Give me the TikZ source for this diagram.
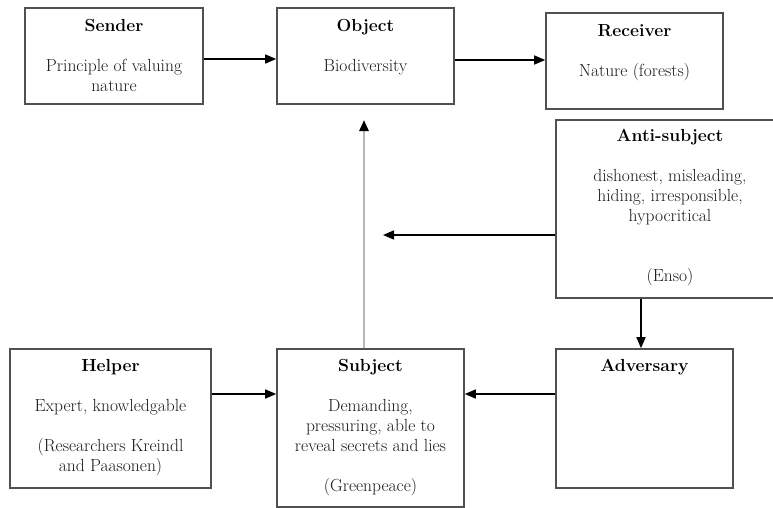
\documentclass[tikz,border=0pt]{standalone}
\usetikzlibrary{arrows.meta}
\definecolor{boxline}{HTML}{505050}
\definecolor{bodytext}{HTML}{1A1A1A}
\tikzset{
  box/.style={draw=boxline, line width=1.6pt, fill=white, inner sep=0pt},
  txt/.style={align=center, inner sep=0pt, anchor=north, text=bodytext,
              font=\rmfamily\fontsize{17.5}{20}\selectfont},
  arr/.style={line width=1.5pt, draw=black, -{Triangle[length=11pt,width=9pt]}},
  grayarr/.style={line width=2.6pt, draw=black!28, -{Triangle[length=11pt,width=9pt,fill=black,color=black]}},
}
\begin{document}
\begin{tikzpicture}[x=1pt,y=-1pt]
\useasboundingbox (0,0) rectangle (773,508);
\clip (0,0) rectangle (773,508);
\fill[white] (0,0) rectangle (773,508);

% boxes
\node[box, minimum width=178pt, minimum height=96pt] (sender) at (114,56) {};
\node[box, minimum width=177pt, minimum height=96pt] (object) at (365.5,56) {};
\node[box, minimum width=177pt, minimum height=96pt] (receiver) at (634.5,61) {};
\node[box, minimum width=228pt, minimum height=178pt] (anti) at (670,209) {};
\node[box, minimum width=177pt, minimum height=139pt] (adversary) at (644.5,418.5) {};
\node[box, minimum width=201pt, minimum height=139pt] (helper) at (110.5,418.5) {};
\node[box, minimum width=187pt, minimum height=158pt] (subject) at (370.5,428) {};

% texts
\node[txt] (sendertxt) at ([yshift=-10pt]sender.north)
  {\strut\textcolor{black}{\textbf{Sender}}\\[20pt]Principle of valuing\\nature};
\node[txt] (objecttxt) at ([yshift=-10pt]object.north)
  {\strut\textcolor{black}{\textbf{Object}}\\[20pt]Biodiversity};
\node[txt] (receivertxt) at ([yshift=-10pt]receiver.north)
  {\strut\textcolor{black}{\textbf{Receiver}}\\[20pt]Nature (forests)};
\node[txt] (antitxt) at ([yshift=-8pt]anti.north)
  {\strut\textcolor{black}{\textbf{Anti-subject}}\\[20pt]dishonest, misleading,\\hiding, irresponsible,\\hypocritical\\[40pt](Enso)};
\node[txt] (adversarytxt) at ([yshift=-9pt]adversary.north)
  {\strut\textcolor{black}{\textbf{Adversary}}};
\node[txt] (helpertxt) at ([yshift=-9pt]helper.north)
  {\strut\textcolor{black}{\textbf{Helper}}\\[20pt]Expert, knowledgable\\[20pt](Researchers Kreindl\\and Paasonen)};
\node[txt] (subjecttxt) at ([yshift=-9pt]subject.north)
  {\strut\textcolor{black}{\textbf{Subject}}\\[20pt]Demanding,\\pressuring, able to\\reveal secrets and lies\\[20pt](Greenpeace)};

% free ends
\coordinate (antiend) at (383,235);
\coordinate (objtip) at (364,120);

% connectors
\draw[arr] (sender.east |- 0,59) -- (object.west |- 0,59);
\draw[arr] (object.east |- 0,60) -- (receiver.west |- 0,60);
\draw[arr] (anti.west |- antiend) -- (antiend);
\draw[arr] (anti.south -| 641,0) -- (adversary.north -| 641,0);
\draw[arr] (adversary.west |- 0,394) -- (subject.east |- 0,394);
\draw[arr] (helper.east |- 0,394) -- (subject.west |- 0,394);
\draw[grayarr] (subject.north -| objtip) -- (objtip);
\end{tikzpicture}
\end{document}
